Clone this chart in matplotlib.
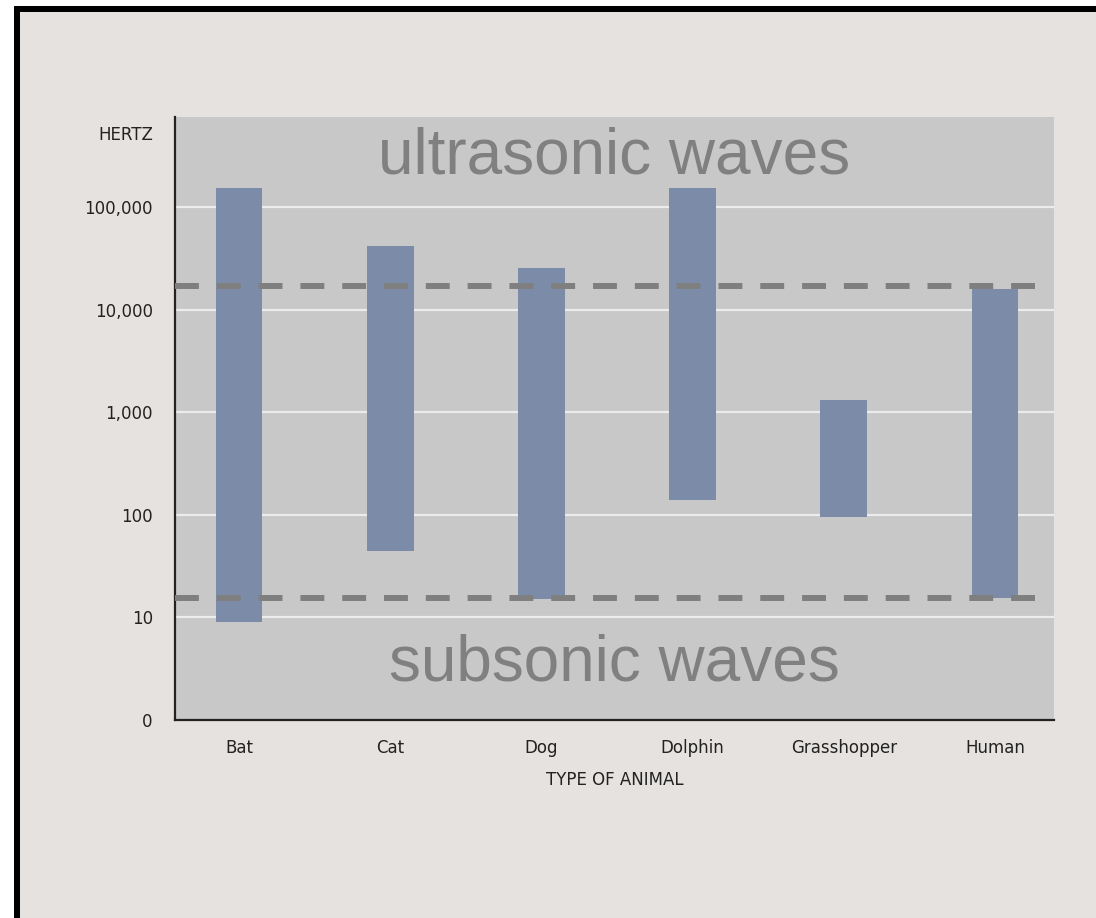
import matplotlib
matplotlib.use("Agg")
import matplotlib.pyplot as plt
from matplotlib.patches import Rectangle

# --- datos (Hz) ---
animals = ["Bat", "Cat", "Dog", "Dolphin", "Grasshopper", "Human"]
low_hz = [9, 44, 15, 139, 95, 15.5]
high_hz = [153000, 41700, 25400, 153000, 1315, 15900]
limits_hz = [15.5, 17000]          # límites infra / ultrasonido (líneas discontinuas)
ytick_vals = [1, 10, 100, 1000, 10000, 100000]
ytick_labels = ["0", "10", "100", "1,000", "10,000", "100,000"]

BG = "#e6e2df"
PANEL = "#c8c8c8"
BAR = "#7b8ba8"
DASH = "#7f7f7f"

W, H = 1096, 918
fig = plt.figure(figsize=(W / 100, H / 100), dpi=100, facecolor="white")

# marco: borde negro arriba e izquierda, fondo beige
fig.patches.append(Rectangle((14 / W, 0), 1 - 14 / W, 1 - 6 / H, transform=fig.transFigure,
                             facecolor="black", edgecolor="none", zorder=-2))
fig.patches.append(Rectangle((20 / W, 0), 1 - 20 / W, 1 - 12 / H, transform=fig.transFigure,
                             facecolor=BG, edgecolor="none", zorder=-1))

ax = fig.add_axes([175 / W, 198 / H, 879 / W, 603 / H])
ax.set_facecolor(PANEL)
ax.set_yscale("log")
ax.set_ylim(1, 10 ** 5.877)
ax.set_xlim(-0.423, 5.39)

x = range(len(animals))
ax.bar(x, [h - l for h, l in zip(high_hz, low_hz)], bottom=low_hz, width=0.31,
       color=BAR, zorder=3)

for v in ytick_vals[1:]:
    ax.axhline(v, color="#ececec", lw=1.6, zorder=1)
for v in limits_hz:
    ax.axhline(v, xmin=0, xmax=860 / 879, color=DASH, lw=4.3, dashes=(4, 3), zorder=4)

ax.set_yticks(ytick_vals)
ax.set_yticklabels(ytick_labels)
ax.yaxis.set_minor_locator(matplotlib.ticker.NullLocator())
ax.set_xticks(list(x))
ax.set_xticklabels(animals)
ax.tick_params(axis="y", length=0, pad=16, labelsize=12, labelcolor="#222222")
ax.tick_params(axis="x", length=0, pad=14, labelsize=12, labelcolor="#222222")

for s in ["top", "right"]:
    ax.spines[s].set_visible(False)
for s in ["left", "bottom"]:
    ax.spines[s].set_color("#222222")
    ax.spines[s].set_linewidth(1.6)

ax.set_xlabel("TYPE OF ANIMAL", fontsize=12, color="#222222", labelpad=10)
ax.text(-0.025, 0.970, "HERTZ", transform=ax.transAxes, ha="right", va="center",
        fontsize=12, color="#222222")

ax.text(0.5, 0.907, "ultrasonic waves", transform=ax.transAxes, ha="center",
        va="baseline", fontsize=46, color="#808080", family="Liberation Sans", zorder=5)
ax.text(0.5, 0.065, "subsonic waves", transform=ax.transAxes, ha="center",
        va="baseline", fontsize=46, color="#808080", family="Liberation Sans", zorder=5)

fig.savefig("out.png", dpi=100)
